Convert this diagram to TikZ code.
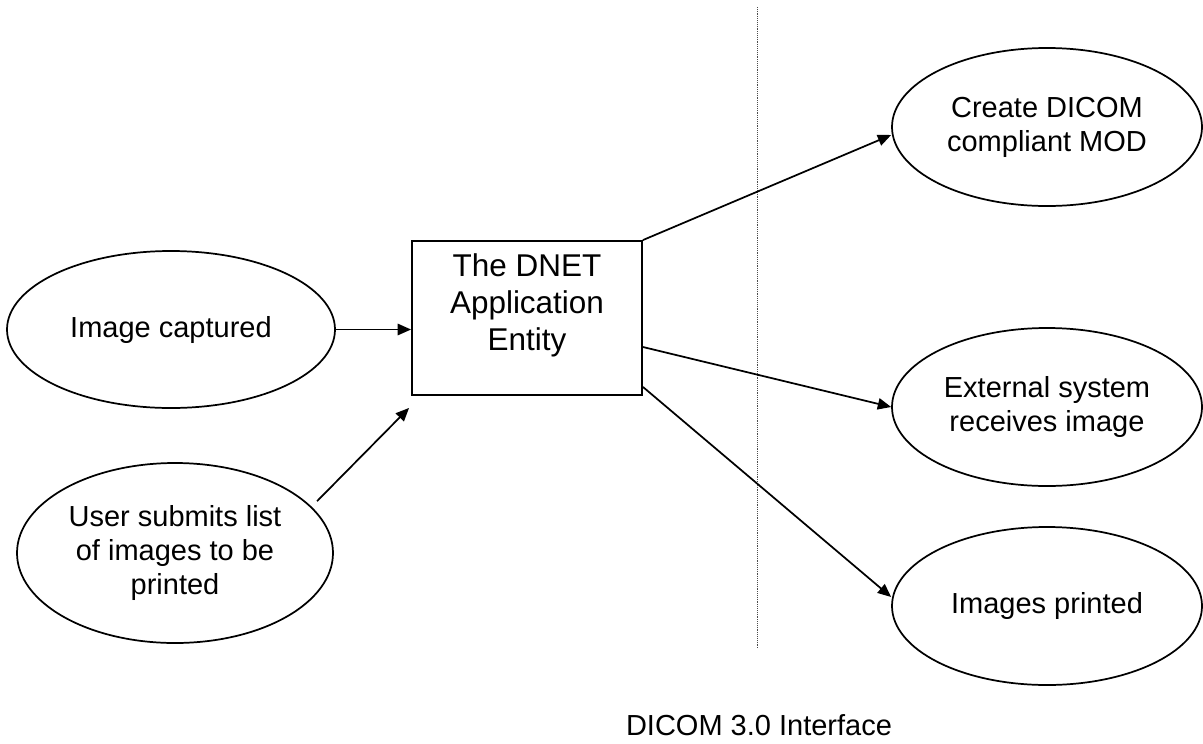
\documentclass[tikz,border=0pt]{standalone}
\usepackage{fontspec}
\setmainfont{Liberation Sans}
\usetikzlibrary{shapes.geometric,arrows.meta,calc}

\tikzset{
  every picture/.style={x=0.75pt,y=-0.75pt},
  usecase/.style={draw,ellipse,line width=1.3pt,inner sep=0pt,align=center,
    font=\fontsize{21.75pt}{25.5pt}\selectfont},
  entity/.style={draw,rectangle,line width=1.4pt,inner sep=0pt,
    minimum width=172.5pt,minimum height=115.5pt},
  entitytext/.style={inner sep=0pt,align=center,
    font=\fontsize{23.6pt}{27.75pt}\selectfont},
  flow/.style={line width=1.3pt,-{Triangle[length=10pt,width=8.5pt]}},
  boundary/.style={line width=0.7pt,black!70,dash pattern=on 0.7pt off 0.7pt},
  caption/.style={inner sep=0pt,font=\fontsize{21.75pt}{25.5pt}\selectfont}
}

\begin{document}
\begin{tikzpicture}
  \useasboundingbox (0,0) rectangle (1203,743);

  % interface boundary
  \coordinate (btop) at (757,7);
  \coordinate (bbot) at (757,648);
  \draw[boundary] (btop) -- (bbot);

  % inputs
  \node[usecase,minimum width=246pt,minimum height=117.75pt] (capture) at (171,329.5) {Image captured};
  \node[usecase,minimum width=237pt,minimum height=135pt] (submit) at (175,553) {User submits list\\of images to be\\printed};

  % application entity
  \node[entity] (ae) at (527,318) {};
  \node[entitytext,anchor=north] (aetext) at ([shift={(0,13)}]ae.north) {The DNET\\Application\\Entity};

  % outputs
  \node[usecase,minimum width=232.5pt,minimum height=118.5pt] (mod) at (1047,127) {Create DICOM\\compliant MOD};
  \node[usecase,minimum width=232.5pt,minimum height=118.5pt] (ext) at (1047,407) {External system\\receives image};
  \node[usecase,minimum width=232.5pt,minimum height=118.5pt] (print) at (1047,606) {Images printed};

  % caption
  \node[caption] (iface) at (759,725) {DICOM 3.0 Interface};

  % flows
  \draw[flow] (capture.east) -- (capture.east -| ae.west);
  \draw[flow] ([shift={(8,-3)}]submit.20) -- ([shift={(-2,12)}]ae.south west);
  \draw[flow] (ae.north east) -- ([shift={(0,8)}]mod.west);
  \draw[flow] ([shift={(0,29)}]ae.east) -- (ext.west);
  \draw[flow] ([shift={(0,-9)}]ae.south east) -- ([shift={(0,-9)}]print.west);
\end{tikzpicture}
\end{document}
